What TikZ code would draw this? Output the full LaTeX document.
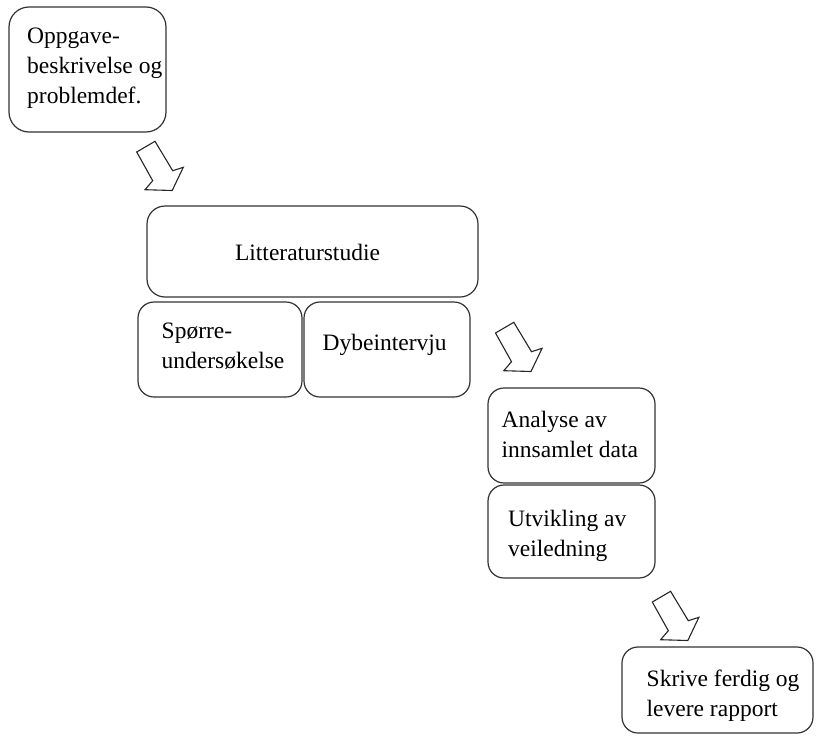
\documentclass[tikz,border=0pt]{standalone}
\usepackage{fontspec}
\setmainfont{Liberation Serif}
\begin{document}
\begin{tikzpicture}[x=1pt,y=-1pt,
  stage/.style={draw=black!80, line width=1.2pt, rounded corners=16pt, fill=white, inner sep=0pt},
  caption/.style={inner sep=0pt, anchor=base west, font=\fontsize{23.5}{30}\selectfont},
  lines/.style={caption, execute at begin node={\begin{minipage}[t]{220pt}\raggedright}, execute at end node={\end{minipage}}},
  blockarrow/.pic={\draw[line width=1.1pt, draw=black!85, line join=miter, fill=white]
     (0,0) -- (18.3,-10.7) -- (36,18.7) -- (46.6,15.3) -- (35.5,38.5) -- (8.3,37.7) -- (16,28.7) -- cycle;}
]
\useasboundingbox (0,0) rectangle (816,736);

% process stages
\node[stage, rounded corners=20pt, minimum width=157pt, minimum height=125pt] (task) at (87.5,69.5) {};
\node[stage, rounded corners=18pt, minimum width=331pt, minimum height=91pt] (lit) at (312.5,251.5) {};
\node[stage, minimum width=164pt, minimum height=95pt] (survey) at (220,349.5) {};
\node[stage, minimum width=166pt, minimum height=95pt] (interview) at (387,349.5) {};
\node[stage, minimum width=167pt, minimum height=95pt] (analysis) at (571.5,435.5) {};
\node[stage, minimum width=167pt, minimum height=93pt] (guide) at (571.5,531.5) {};
\node[stage, minimum width=191pt, minimum height=86pt] (report) at (717.5,690) {};

% stage texts
\node[lines] (tasktext) at (27,43) {Oppgave-\\beskrivelse og\\problemdef.};
\node[caption, anchor=base] (littext) at (307.5,260) {Litteraturstudie};
\node[lines] (surveytext) at (161.5,338) {Spørre-\\undersøkelse};
\node[caption] (interviewtext) at (322.5,350) {Dybeintervju};
\node[lines] (analysistext) at (501.5,427) {Analyse av\\innsamlet data};
\node[lines] (guidetext) at (508,526) {Utvikling av\\veiledning};
\node[lines] (reporttext) at (646.5,686) {Skrive ferdig og\\levere rapport};

% block arrows between the phases
\pic at (136.7,152) {blockarrow};
\pic at (495.5,333) {blockarrow};
\pic at (652.3,602) {blockarrow};
\end{tikzpicture}
\end{document}
